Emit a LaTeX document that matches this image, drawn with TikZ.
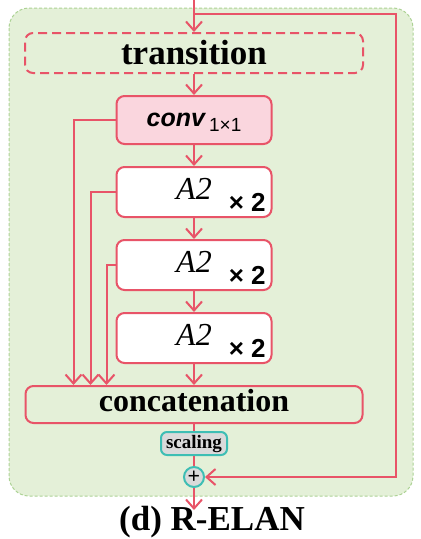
\documentclass[tikz,border=0pt]{standalone}
\usepackage{fontspec}
\setmainfont{Liberation Serif}
\setsansfont{Liberation Sans}
\usetikzlibrary{positioning,arrows.meta}

\definecolor{elanred}{RGB}{232,84,104}
\definecolor{elangreen}{RGB}{228,240,216}
\definecolor{elanborder}{RGB}{172,210,148}
\definecolor{elanpink}{RGB}{250,214,222}
\definecolor{elanteal}{RGB}{62,190,180}
\definecolor{elangrey}{RGB}{218,218,218}

\begin{document}
\begin{tikzpicture}[x=1pt,y=-1pt,node distance=21pt,line width=2pt,
                    >={Straight Barb[length=9pt,width=16pt]},
                    basenode/.style={draw=elanred,rounded corners=8pt,inner sep=0pt},
                    transbox/.style={basenode,dash pattern=on 9pt off 5pt,minimum width=338pt,minimum height=40pt,font={\fontsize{35}{40}\selectfont\bfseries}},
                    convbox/.style={basenode,fill=elanpink,minimum width=155pt,minimum height=48pt,text height=18pt,text depth=6pt,font={\fontsize{25}{28}\selectfont\sffamily}},
                    blockbox/.style={basenode,fill=white,minimum width=155pt,minimum height=50pt,text height=20pt,text depth=6pt,font={\fontsize{32}{36}\selectfont\itshape}},
                    concatbox/.style={basenode,minimum width=337pt,minimum height=37pt,text height=20pt,text depth=7pt,font={\fontsize{32}{36}\selectfont\bfseries}},
                    scalebox/.style={draw=elanteal,fill=elangrey,rounded corners=6pt,inner sep=0pt,minimum width=66pt,minimum height=23pt,font={\fontsize{19}{22}\selectfont\bfseries}},
                    addnode/.style={circle,draw=elanteal,fill=elangrey,inner sep=0pt,minimum size=20pt,font={\fontsize{22}{22}\selectfont\bfseries}},
                    wire/.style={draw=elanred}]
  \useasboundingbox (0,0) rectangle (421,539);
  \draw[elanborder,fill=elangreen,line width=1pt,dash pattern=on 3pt off 2pt,rounded corners=20pt] (9,8) rectangle (413,496);
  \node[transbox] (transition) at (194,53) {transition};
  \node[convbox] (conv) [below=of transition] {\bfseries\itshape conv\,\raisebox{-5pt}{\mdseries\upshape\fontsize{19}{19}\selectfont 1×1}};
  \node[blockbox] (block1) [below=of conv] {A2\smash{\rlap{\hspace{17pt}\raisebox{-12pt}{\fontsize{26}{26}\selectfont\sffamily\bfseries\upshape × 2}}}};
  \node[blockbox] (block2) [below=of block1] {A2\smash{\rlap{\hspace{17pt}\raisebox{-12pt}{\fontsize{26}{26}\selectfont\sffamily\bfseries\upshape × 2}}}};
  \node[blockbox] (block3) [below=of block2] {A2\smash{\rlap{\hspace{17pt}\raisebox{-12pt}{\fontsize{26}{26}\selectfont\sffamily\bfseries\upshape × 2}}}};
  \node[concatbox] (concat) [below=of block3] {concatenation};
  \node[scalebox] (scaling) [below=7pt of concat] {scaling};
  \node[addnode] (add) [below=10pt of scaling] {+};
  \node[coordinate] (input) [above=33pt of transition] {};
  \node[coordinate] (output) [below=22pt of add] {};
  \node[coordinate] (n0) [below=15pt of input] {};
  \node[coordinate] (n3) [right=32pt of transition] {};
  \node[coordinate] at (n0 -| n3) (n4) {};
  \node[coordinate] at (add -| n3) (n5) {};
  \node[coordinate] (n1) [left=42pt of conv] {};
  \node[coordinate] (n2) [left=25pt of block1] {};
  \node[coordinate] (n6) [left=9pt of block2] {};
  \node[font={\fontsize{35}{40}\selectfont\bfseries}] (caption) at (212,522) {(d) R-ELAN};
  \draw[wire,->] (input) -- (transition);
  \draw[wire,->] (transition) -- (conv);
  \draw[wire,->] (conv) -- (block1);
  \draw[wire,->] (block1) -- (block2);
  \draw[wire,->] (block2) -- (block3);
  \draw[wire,->] (block3) -- (concat);
  \draw[wire] (concat) -- (scaling);
  \draw[wire] (scaling) -- (add);
  \draw[wire,->] (add) -- (output);
  \draw[wire,->] (conv) -- (n1) -- (n1 |- concat.north);
  \draw[wire,->] (block1) -- (n2) -- (n2 |- concat.north);
  \draw[wire,->] (block2) -- (n6) -- (n6 |- concat.north);
  \draw[wire,->] (n0) -- (n4) -- (n5) -- (add);
\end{tikzpicture}
\end{document}
